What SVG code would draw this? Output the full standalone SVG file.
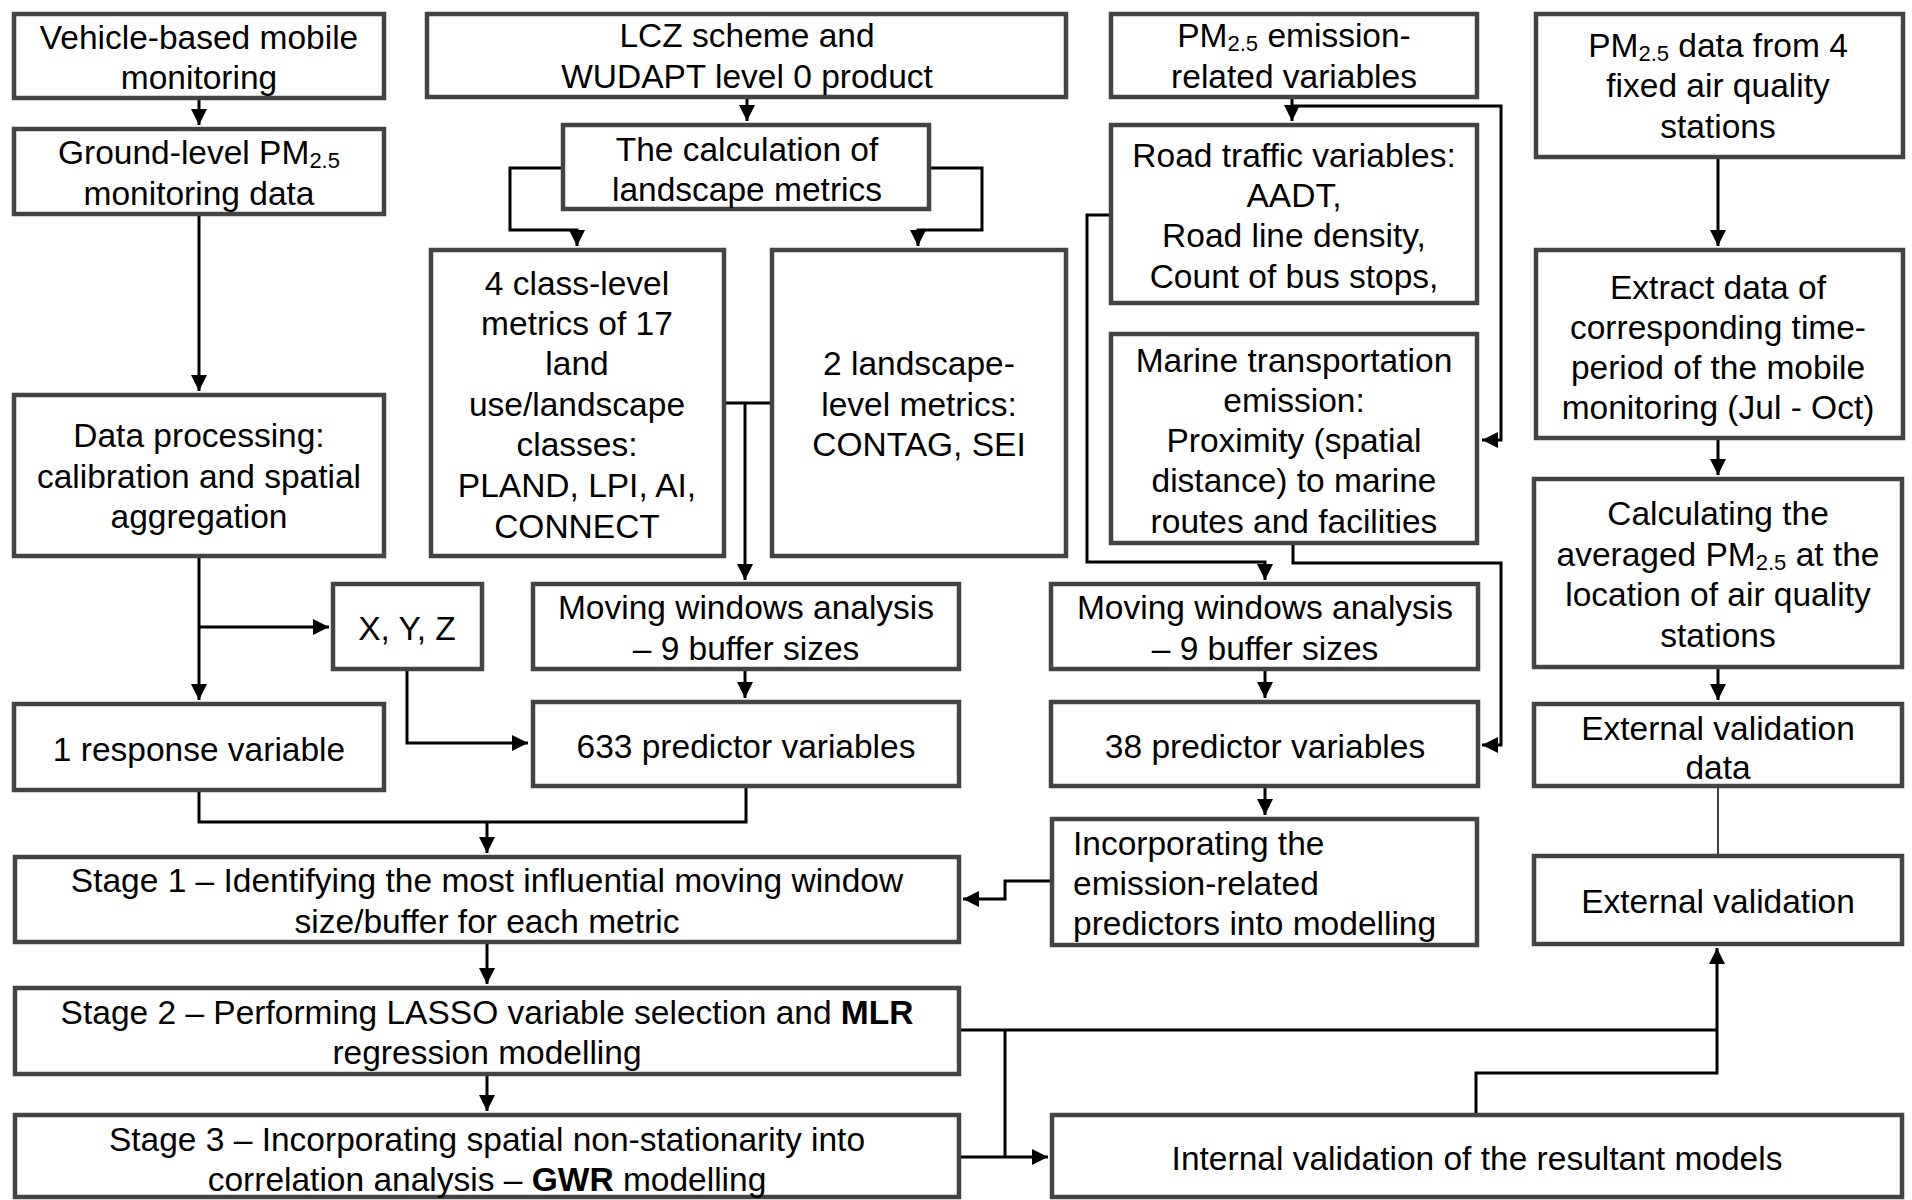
<svg xmlns="http://www.w3.org/2000/svg" width="1912" height="1200" viewBox="0 0 1912 1200">
<style>
.box{fill:#fff;stroke:#444;stroke-width:4.5}
.t{font-family:"Liberation Sans",Arial,sans-serif;font-size:33.5px;fill:#000;text-anchor:middle;dominant-baseline:central}
.l{text-anchor:start}
.c{fill:none;stroke:#000;stroke-width:3}
.thin{fill:none;stroke:#000;stroke-width:1.5}
.sub{font-size:22px}
</style>
<defs>
<marker id="ah" markerWidth="17" markerHeight="17" refX="16" refY="8" orient="auto" markerUnits="userSpaceOnUse"><path d="M0,0 L16,8 L0,16 z" fill="#000"/></marker>
</defs>
<rect width="1912" height="1200" fill="#fff"/>
<g id="connectors">
<path class="c" d="M199,100 V125" marker-end="url(#ah)"/>
<path class="c" d="M199,216 V391" marker-end="url(#ah)"/>
<path class="c" d="M199,558 V700" marker-end="url(#ah)"/>
<path class="c" d="M199,627 H329" marker-end="url(#ah)"/>
<path class="c" d="M407,671 V743 H528" marker-end="url(#ah)"/>
<path class="c" d="M199,792 V822 H746 V788"/>
<path class="c" d="M487,822 V853" marker-end="url(#ah)"/>
<path class="c" d="M747,99 V121" marker-end="url(#ah)"/>
<path class="c" d="M561,168 H510 V230 H577 V246" marker-end="url(#ah)"/>
<path class="c" d="M931,168 H982 V230 H918 V246" marker-end="url(#ah)"/>
<path class="c" d="M726,403 H770"/>
<path class="c" d="M745,403 V580" marker-end="url(#ah)"/>
<path class="c" d="M745,671 V698" marker-end="url(#ah)"/>
<path class="c" d="M1292,99 V121" marker-end="url(#ah)"/>
<path class="c" d="M1292,106 H1501 V440 H1482" marker-end="url(#ah)"/>
<path class="c" d="M1109,215 H1087 V562 H1265 V580" marker-end="url(#ah)"/>
<path class="c" d="M1293,545 V563 H1501 V745 H1482" marker-end="url(#ah)"/>
<path class="c" d="M1265,671 V698" marker-end="url(#ah)"/>
<path class="c" d="M1265,788 V815" marker-end="url(#ah)"/>
<path class="c" d="M1050,881 H1005 V899 H963" marker-end="url(#ah)"/>
<path class="c" d="M487,944 V984" marker-end="url(#ah)"/>
<path class="c" d="M487,1076 V1111" marker-end="url(#ah)"/>
<path class="c" d="M961,1030 H1717"/>
<path class="c" d="M1476,1113 V1073 H1717 V948" marker-end="url(#ah)"/>
<path class="c" d="M1005,1030 V1157"/>
<path class="c" d="M961,1157 H1048" marker-end="url(#ah)"/>
<path class="c" d="M1718,159 V246" marker-end="url(#ah)"/>
<path class="c" d="M1718,440 V475" marker-end="url(#ah)"/>
<path class="c" d="M1718,669 V700" marker-end="url(#ah)"/>
<path class="thin" d="M1718,788 V854"/>
</g>
<g id="n-vehicle"><rect class="box" x="14" y="14" width="370" height="84"/><text class="t" x="199" y="37">Vehicle-based mobile</text><text class="t" x="199" y="77">monitoring</text></g>
<g id="n-ground"><rect class="box" x="14" y="129" width="370" height="85"/><text class="t" x="199" y="152">Ground-level PM<tspan class="sub" dy="8">2.5</tspan></text><text class="t" x="199" y="193">monitoring data</text></g>
<g id="n-dataproc"><rect class="box" x="14" y="395" width="370" height="161"/><text class="t" x="199" y="435">Data processing:</text><text class="t" x="199" y="476">calibration and spatial</text><text class="t" x="199" y="516">aggregation</text></g>
<g id="n-response"><rect class="box" x="14" y="704" width="370" height="86"/><text class="t" x="199" y="749">1 response variable</text></g>
<g id="n-xyz"><rect class="box" x="333" y="584" width="149" height="85"/><text class="t" x="407" y="628">X, Y, Z</text></g>
<g id="n-lcz"><rect class="box" x="427" y="14" width="639" height="83"/><text class="t" x="747" y="35">LCZ scheme and</text><text class="t" x="747" y="76">WUDAPT level 0 product</text></g>
<g id="n-calc"><rect class="box" x="563" y="125" width="366" height="84"/><text class="t" x="747" y="149">The calculation of</text><text class="t" x="747" y="189">landscape metrics</text></g>
<g id="n-class"><rect class="box" x="431" y="250" width="293" height="306"/>
<text class="t" x="577" y="283">4 class-level</text><text class="t" x="577" y="323">metrics of 17</text><text class="t" x="577" y="363">land</text><text class="t" x="577" y="404">use/landscape</text><text class="t" x="577" y="444">classes:</text><text class="t" x="577" y="485">PLAND, LPI, AI,</text><text class="t" x="577" y="526">CONNECT</text></g>
<g id="n-landscape"><rect class="box" x="772" y="250" width="294" height="306"/><text class="t" x="919" y="363">2 landscape-</text><text class="t" x="919" y="404">level metrics:</text><text class="t" x="919" y="444">CONTAG, SEI</text></g>
<g id="n-mw1"><rect class="box" x="533" y="584" width="426" height="85"/><text class="t" x="746" y="607">Moving windows analysis</text><text class="t" x="746" y="648">– 9 buffer sizes</text></g>
<g id="n-633"><rect class="box" x="533" y="702" width="426" height="84"/><text class="t" x="746" y="746">633 predictor variables</text></g>
<g id="n-emis"><rect class="box" x="1111" y="14" width="366" height="83"/><text class="t" x="1294" y="35">PM<tspan class="sub" dy="8">2.5</tspan><tspan dy="-8"> emission-</tspan></text><text class="t" x="1294" y="76">related variables</text></g>
<g id="n-road"><rect class="box" x="1111" y="125" width="366" height="178"/><text class="t" x="1294" y="155">Road traffic variables:</text><text class="t" x="1294" y="195">AADT,</text><text class="t" x="1294" y="235">Road line density,</text><text class="t" x="1294" y="276">Count of bus stops,</text></g>
<g id="n-marine"><rect class="box" x="1111" y="334" width="366" height="209"/><text class="t" x="1294" y="360">Marine transportation</text><text class="t" x="1294" y="400">emission:</text><text class="t" x="1294" y="440">Proximity (spatial</text><text class="t" x="1294" y="480">distance) to marine</text><text class="t" x="1294" y="521">routes and facilities</text></g>
<g id="n-mw2"><rect class="box" x="1051" y="584" width="427" height="85"/><text class="t" x="1265" y="607">Moving windows analysis</text><text class="t" x="1265" y="648">– 9 buffer sizes</text></g>
<g id="n-38"><rect class="box" x="1051" y="702" width="427" height="84"/><text class="t" x="1265" y="746">38 predictor variables</text></g>
<g id="n-incorp"><rect class="box" x="1052" y="819" width="425" height="126"/><text class="t l" x="1073" y="843">Incorporating the</text><text class="t l" x="1073" y="883">emission-related</text><text class="t l" x="1073" y="923">predictors into modelling</text></g>
<g id="n-fixed"><rect class="box" x="1536" y="14" width="367" height="143"/><text class="t" x="1718" y="45">PM<tspan class="sub" dy="8">2.5</tspan><tspan dy="-8"> data from 4</tspan></text><text class="t" x="1718" y="85">fixed air quality</text><text class="t" x="1718" y="126">stations</text></g>
<g id="n-extract"><rect class="box" x="1536" y="250" width="367" height="188"/><text class="t" x="1718" y="287">Extract data of</text><text class="t" x="1718" y="327">corresponding time-</text><text class="t" x="1718" y="367">period of the mobile</text><text class="t" x="1718" y="407">monitoring (Jul - Oct)</text></g>
<g id="n-avg"><rect class="box" x="1534" y="479" width="368" height="188"/><text class="t" x="1718" y="513">Calculating the</text><text class="t" x="1718" y="554">averaged PM<tspan class="sub" dy="8">2.5</tspan><tspan dy="-8"> at the</tspan></text><text class="t" x="1718" y="594">location of air quality</text><text class="t" x="1718" y="635">stations</text></g>
<g id="n-extdata"><rect class="box" x="1534" y="704" width="368" height="82"/><text class="t" x="1718" y="728">External validation</text><text class="t" x="1718" y="767">data</text></g>
<g id="n-extval"><rect class="box" x="1534" y="856" width="368" height="88"/><text class="t" x="1718" y="901">External validation</text></g>
<g id="n-stage1"><rect class="box" x="15" y="857" width="944" height="85"/><text class="t" x="487" y="880">Stage 1 – Identifying the most influential moving window</text><text class="t" x="487" y="921">size/buffer for each metric</text></g>
<g id="n-stage2"><rect class="box" x="15" y="988" width="944" height="86"/><text class="t" x="487" y="1012">Stage 2 – Performing LASSO variable selection and <tspan font-weight="bold">MLR</tspan></text><text class="t" x="487" y="1052">regression modelling</text></g>
<g id="n-stage3"><rect class="box" x="15" y="1115" width="944" height="82"/><text class="t" x="487" y="1139">Stage 3 – Incorporating spatial non-stationarity into</text><text class="t" x="487" y="1179">correlation analysis – <tspan font-weight="bold">GWR</tspan> modelling</text></g>
<g id="n-internal"><rect class="box" x="1052" y="1115" width="850" height="82"/><text class="t" x="1477" y="1158">Internal validation of the resultant models</text></g>
</svg>
